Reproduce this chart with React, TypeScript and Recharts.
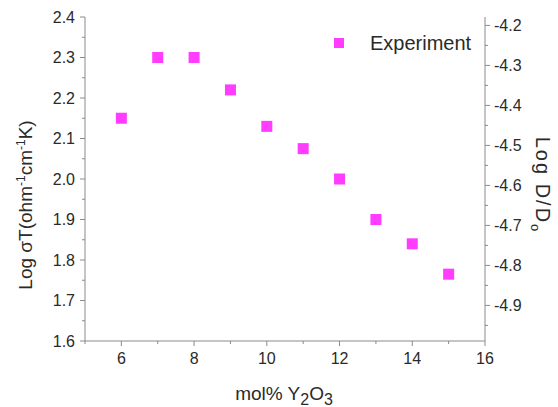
import React from 'react';
import { ScatterChart, Scatter, XAxis, YAxis, Legend } from 'recharts';

// ---- data ----
const molPercent = [6, 7, 8, 9, 10, 11, 12, 13, 14, 15];
const logSigmaT = [2.15, 2.3, 2.3, 2.22, 2.13, 2.075, 2.0, 1.9, 1.84, 1.765];
const seriesName = 'Experiment';

// ---- ticks ----
const xTicks = [5, 6, 7, 8, 9, 10, 11, 12, 13, 14, 15, 16];
const xTickLabels = [6, 8, 10, 12, 14, 16];
const leftTicks = [1.6, 1.65, 1.7, 1.75, 1.8, 1.85, 1.9, 1.95, 2.0, 2.05, 2.1, 2.15, 2.2, 2.25, 2.3, 2.35, 2.4];
const leftTickLabels = [1.6, 1.7, 1.8, 1.9, 2.0, 2.1, 2.2, 2.3, 2.4];
const rightTicks = [-4.95, -4.9, -4.85, -4.8, -4.75, -4.7, -4.65, -4.6, -4.55, -4.5, -4.45, -4.4, -4.35, -4.3, -4.25, -4.2];
const rightTickLabels = [-4.9, -4.8, -4.7, -4.6, -4.5, -4.4, -4.3, -4.2];

const xDomain = [5, 16];
const leftDomain = [1.6, 2.4];
const rightDomain = [-4.989, -4.179];

const tableData = molPercent.map((x, i) => ({ x, y: logSigmaT[i] }));

const AXIS = '#8a8a8a';
const TEXT = '#2a2a2a';
const MARK = '#ff3cff';
const FONT = 'Arial, "Liberation Sans", sans-serif';

const LeftTick = (props: any) => {
  const { x, y, payload } = props;
  const major = leftTickLabels.includes(payload.value);
  return (
    <g>
      <line x1={x} y1={y} x2={x - (major ? 5 : 3)} y2={y} stroke={AXIS} strokeWidth={1} />
      {major && (
        <text x={x - 10} y={y} dy="0.36em" textAnchor="end" fontSize={16} fill={TEXT} fontFamily={FONT}>
          {payload.value.toFixed(1)}
        </text>
      )}
    </g>
  );
};

const RightTick = (props: any) => {
  const { x, y, payload } = props;
  const major = rightTickLabels.includes(payload.value);
  return (
    <g>
      <line x1={x} y1={y} x2={x + (major ? 5 : 3)} y2={y} stroke={AXIS} strokeWidth={1} />
      {major && (
        <text x={x + 9} y={y} dy="0.36em" textAnchor="start" fontSize={16} fill={TEXT} fontFamily={FONT}>
          {payload.value.toFixed(1)}
        </text>
      )}
    </g>
  );
};

const BottomTick = (props: any) => {
  const { x, y, payload } = props;
  const major = xTickLabels.includes(payload.value);
  return (
    <g>
      <line x1={x} y1={y} x2={x} y2={y + (major ? 5 : 3)} stroke={AXIS} strokeWidth={1} />
      {major && (
        <text x={x} y={y + 17} dy="0.36em" textAnchor="middle" fontSize={16} fill={TEXT} fontFamily={FONT}>
          {payload.value}
        </text>
      )}
    </g>
  );
};

const TopTick = (props: any) => {
  const { x, y, payload } = props;
  const major = xTickLabels.includes(payload.value);
  return <line x1={x} y1={y} x2={x} y2={y + (major ? 5 : 3)} stroke={AXIS} strokeWidth={1} />;
};

const SquareMark = (props: any) => {
  const { cx, cy } = props;
  if (cx == null || cy == null) return null;
  return <rect x={cx - 5.5} y={cy - 5.5} width={11} height={11} fill={MARK} />;
};

const LegendContent = () => (
  <div style={{ display: 'flex', alignItems: 'center', fontFamily: FONT, fontSize: 20, color: TEXT, lineHeight: '20px' }}>
    <svg width={10} height={10} style={{ display: 'block' }}>
      <rect x={0} y={0} width={10} height={10} fill={MARK} />
    </svg>
    <span style={{ marginLeft: 26 }}>{seriesName}</span>
  </div>
);

const Titles = () => (
  <g fontFamily={FONT} fill={TEXT}>
    <text transform="translate(25,205) rotate(-90)" textAnchor="middle" dy="0.36em" fontSize={19}>
      Log σT(ohm
      <tspan dy={-7} fontSize={12}>-1</tspan>
      <tspan dy={7}>cm</tspan>
      <tspan dy={-7} fontSize={12}>-1</tspan>
      <tspan dy={7}>K)</tspan>
    </text>
    <text transform="translate(543,185) rotate(90)" textAnchor="middle" dy="0.36em" fontSize={20} letterSpacing={2}>
      Log D/D
      <tspan dy={5} fontSize={13}>o</tspan>
    </text>
    <text x={284} y={400} textAnchor="middle" fontSize={19}>
      mol% Y
      <tspan dy={5} fontSize={16}>2</tspan>
      <tspan dy={-5}>O</tspan>
      <tspan dy={5} fontSize={16}>3</tspan>
    </text>
  </g>
);

export default function App() {
  return (
    <div style={{ position: 'absolute', left: 0, top: 0, width: 558, height: 407, background: '#fff' }}>
      <ScatterChart width={558} height={407} margin={{ top: 17, right: 0, bottom: 0, left: 0 }}>
        <XAxis
          xAxisId="bottom"
          orientation="bottom"
          type="number"
          dataKey="x"
          domain={xDomain}
          ticks={xTicks}
          allowDataOverflow
          height={66}
          tickSize={0}
          tickMargin={0}
          tickLine={false}
          axisLine={{ stroke: AXIS }}
          tick={<BottomTick />}
          interval={0}
        />
        <XAxis
          xAxisId="top"
          orientation="top"
          type="number"
          domain={xDomain}
          ticks={xTicks}
          allowDataOverflow
          height={0}
          tickSize={0}
          tickMargin={0}
          tickLine={false}
          axisLine={{ stroke: AXIS }}
          tick={<TopTick />}
          interval={0}
        />
        <YAxis
          yAxisId="left"
          orientation="left"
          type="number"
          dataKey="y"
          domain={leftDomain}
          ticks={leftTicks}
          allowDataOverflow
          width={85}
          tickSize={0}
          tickMargin={0}
          tickLine={false}
          axisLine={{ stroke: AXIS }}
          tick={<LeftTick />}
          interval={0}
        />
        <YAxis
          yAxisId="right"
          orientation="right"
          type="number"
          domain={rightDomain}
          ticks={rightTicks}
          allowDataOverflow
          width={73}
          tickSize={0}
          tickMargin={0}
          tickLine={false}
          axisLine={{ stroke: AXIS }}
          tick={<RightTick />}
          interval={0}
        />
        <Legend
          layout="vertical"
          align="center"
          verticalAlign="middle"
          content={<LegendContent />}
          wrapperStyle={{ left: 334, top: 33, width: 180, height: 20 }}
        />
        <Scatter
          name={seriesName}
          data={tableData}
          xAxisId="bottom"
          yAxisId="left"
          fill={MARK}
          shape={<SquareMark />}
          isAnimationActive={false}
        />
        <Titles />
      </ScatterChart>
    </div>
  );
}
